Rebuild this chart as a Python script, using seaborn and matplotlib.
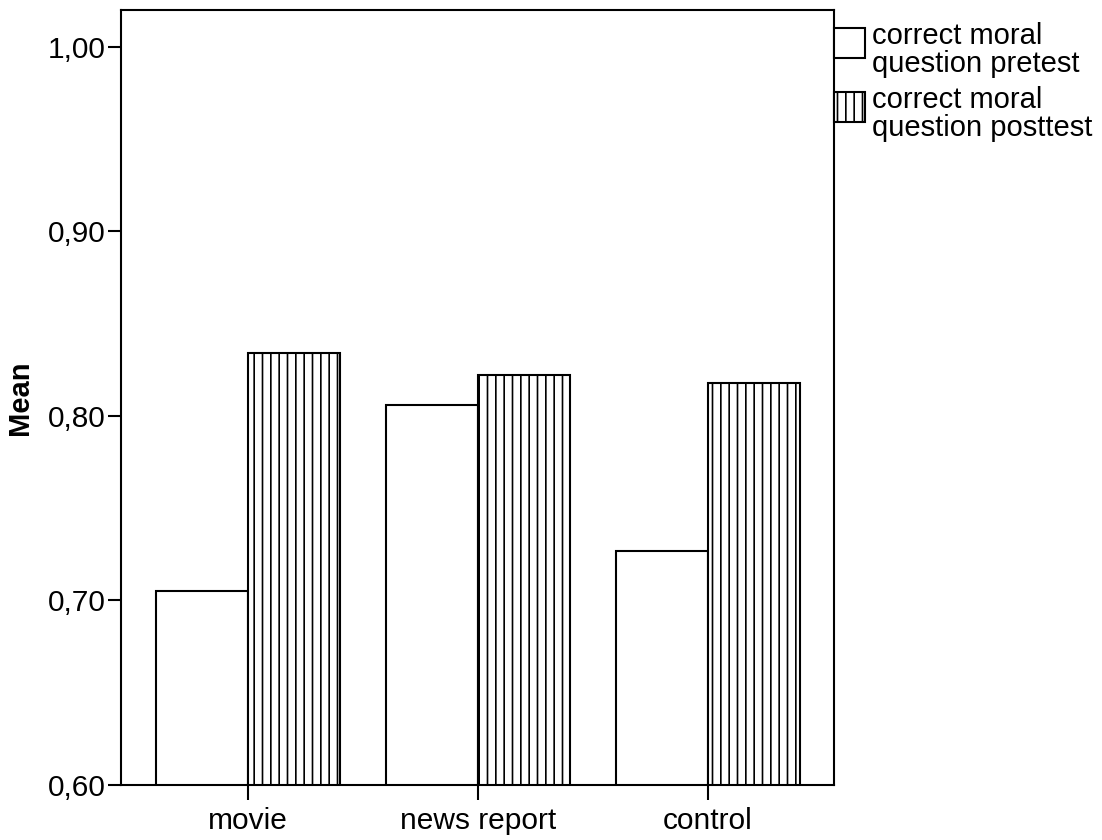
import matplotlib
matplotlib.use("Agg")
import matplotlib.pyplot as plt
import seaborn as sns
import pandas as pd
from matplotlib.patches import Patch, Rectangle
from matplotlib.legend_handler import HandlerPatch

groups = ["movie", "news report", "control"]
series = ["correct moral\nquestion pretest", "correct moral\nquestion posttest"]
pretest = [0.705, 0.806, 0.727]
posttest = [0.834, 0.822, 0.818]
yticks = [0.60, 0.70, 0.80, 0.90, 1.00]
ytick_labels = ["0,60", "0,70", "0,80", "0,90", "1,00"]

df = pd.DataFrame({
    "group": groups * 2,
    "series": [series[0]] * 3 + [series[1]] * 3,
    "mean": pretest + posttest,
})

sns.set_style("white")
plt.rcParams['font.family'] = ['Liberation Sans', 'DejaVu Sans']
plt.rcParams['text.color'] = 'black'
plt.rcParams['axes.labelcolor'] = 'black'
plt.rcParams['hatch.linewidth'] = 1.2
plt.rcParams['hatch.color'] = 'black'

fig = plt.figure(figsize=(11.02, 8.4), dpi=100)
ax = fig.add_axes([0.1098, 0.0655, 0.6470, 0.9226])
sns.barplot(data=df, x="group", y="mean", hue="series", order=groups,
            hue_order=series, palette=["white", "white"], edgecolor="black",
            linewidth=1.5, width=0.8, ax=ax, legend=False, saturation=1,
            errorbar=None)
hatches = ["", "||"]
for cont, h in zip(ax.containers, hatches):
    for bar in cont:
        bar.set_hatch(h)
        bar.set_facecolor("white")
        bar.set_edgecolor("black")

ax.set_xlim(-0.552, 2.548)
ax.set_ylim(0.60, 1.02)
ax.set_yticks(yticks)
ax.set_yticklabels(ytick_labels)
ax.set_xlabel("")
ax.set_ylabel("Mean", fontsize=21, fontweight="bold", labelpad=10, color="black")
ax.tick_params(axis="y", direction="out", length=9.5, width=1.5, labelsize=21.5,
               left=True, colors="black", pad=1.5)
ax.tick_params(axis="x", direction="out", length=10.5, width=1.5, labelsize=21.5,
               bottom=True, colors="black", pad=5)
for s in ax.spines.values():
    s.set_color("black")
    s.set_linewidth(1.5)


def raised_rect(legend, orig_handle, xdescent, ydescent, width, height, fontsize):
    return Rectangle((-xdescent, -ydescent + 6.0), width, height)


handles = [Patch(facecolor="white", edgecolor="black", hatch=h, linewidth=1.5)
           for h in hatches]
leg = ax.legend(handles, series, loc="upper left", bbox_to_anchor=(1.0, 0.984),
                frameon=False, fontsize=21, borderaxespad=0, borderpad=0,
                handlelength=1.05, handleheight=1.2, handletextpad=0.25,
                labelspacing=0.3,
                handler_map={Patch: HandlerPatch(patch_func=raised_rect)})
for t in leg.get_texts():
    t.set_linespacing(0.97)
    t.set_color("black")

fig.savefig("out.png", dpi=100, facecolor="white")
